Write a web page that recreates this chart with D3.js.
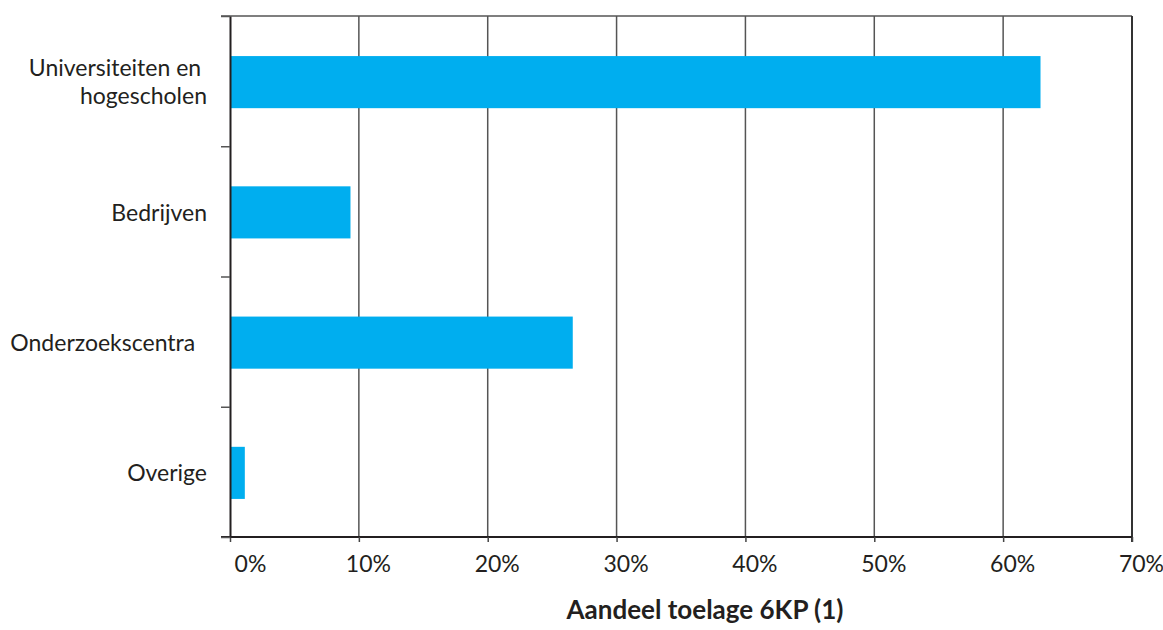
<!DOCTYPE html>
<html>
<head>
<meta charset="utf-8">
<script src="https://cdn.jsdelivr.net/npm/d3@7"></script>
<style>
  html, body { margin: 0; padding: 0; background: #ffffff; }
  svg { display: block; }
  text { font-family: Lato, "Open Sans", sans-serif; fill: #231f20; }
</style>
</head>
<body>
<svg id="chart" width="1163" height="630"></svg>
<script>
const categories = ["Universiteiten en hogescholen", "Bedrijven", "Onderzoekscentra", "Overige"];
const categoryLines = [["Universiteiten en\u00a0", "hogescholen"], ["Bedrijven"], ["Onderzoekscentra\u00a0\u00a0"], ["Overige"]];
const shares = [0.629, 0.0935, 0.266, 0.0115];
const xTickValues = [0, 0.1, 0.2, 0.3, 0.4, 0.5, 0.6, 0.7];
const xTitle = "Aandeel toelage 6KP (1)";

const W = 1163, H = 630;
const m = { left: 230, right: 31, top: 16, bottom: 93 };
const svg = d3.select("#chart");

const x = d3.scaleLinear().domain([0, 0.7]).range([m.left, W - m.right]);
const y = d3.scaleBand().domain(categories).range([m.top, H - m.bottom])
  .paddingInner(0.6).paddingOuter(0.3);
const yEdge = d3.scaleLinear().domain([0, categories.length]).range([m.top, H - m.bottom]);

const pTop = m.top, pBot = H - m.bottom;

// vertical gridlines
svg.append("g").selectAll("line").data(xTickValues.slice(1, -1)).join("line")
  .attr("x1", d => x(d)).attr("x2", d => x(d))
  .attr("y1", pTop).attr("y2", pBot)
  .attr("stroke", "#555").attr("stroke-width", 1.5);

// top border
svg.append("line").attr("x1", m.left - 9).attr("x2", x(0.7))
  .attr("y1", pTop).attr("y2", pTop).attr("stroke", "#555").attr("stroke-width", 1.5);
// right border
svg.append("line").attr("x1", x(0.7)).attr("x2", x(0.7))
  .attr("y1", pTop).attr("y2", pBot + 5).attr("stroke", "#333").attr("stroke-width", 2);

// bars
svg.append("g").selectAll("rect").data(categories).join("rect")
  .attr("x", x(0))
  .attr("y", d => y(d) + 1)
  .attr("width", (d, i) => x(shares[i]) - x(0))
  .attr("height", y.bandwidth())
  .attr("fill", "#00aeef");

// x axis
const xAxis = svg.append("g").attr("transform", `translate(0,${pBot})`)
  .call(d3.axisBottom(x).tickValues(xTickValues).tickSize(5).tickSizeOuter(0)
    .tickFormat(d3.format(".0%")));
xAxis.select(".domain").attr("stroke", "#231f20").attr("stroke-width", 2)
  .attr("d", `M${m.left - 9},0H${x(0.7)}`);
xAxis.selectAll(".tick line").attr("stroke", "#444").attr("stroke-width", 1.5);
xAxis.selectAll(".tick text")
  .attr("font-size", 23).attr("font-family", "Lato, sans-serif").attr("fill", "#231f20")
  .attr("y", 35).attr("dy", 0)
  .attr("dx", (d, i) => i === 0 ? 20 : 9);

// y axis (ticks at band edges)
const yAxis = svg.append("g").attr("transform", `translate(${m.left},0)`)
  .call(d3.axisLeft(yEdge).ticks(categories.length).tickSize(9).tickSizeOuter(0).tickFormat(""));
yAxis.select(".domain").attr("stroke", "#231f20").attr("stroke-width", 2);
yAxis.selectAll(".tick line").attr("stroke", "#555").attr("stroke-width", 1.5);

// category labels
const lab = svg.append("g").selectAll("text").data(categories).join("text")
  .attr("text-anchor", "end").attr("font-size", 23)
  .attr("xml:space", "preserve").style("white-space", "pre")
  .attr("transform", d => `translate(${m.left - 23},${y(d) + y.bandwidth() / 2 + 1})`);
lab.each(function (d, i) {
  const lines = categoryLines[i];
  const t = d3.select(this);
  const n = lines.length;
  lines.forEach((ln, j) => {
    t.append("tspan").attr("x", 0)
      .attr("y", (j - (n - 1) / 2) * 28)
      .attr("dy", "0.36em").text(ln);
  });
});

// x title
svg.append("text").attr("x", (x(0) + x(0.7)) / 2 + 24).attr("y", 619)
  .attr("text-anchor", "middle").attr("font-weight", "bold").attr("font-size", 26)
  .text(xTitle);
</script>
</body>
</html>
